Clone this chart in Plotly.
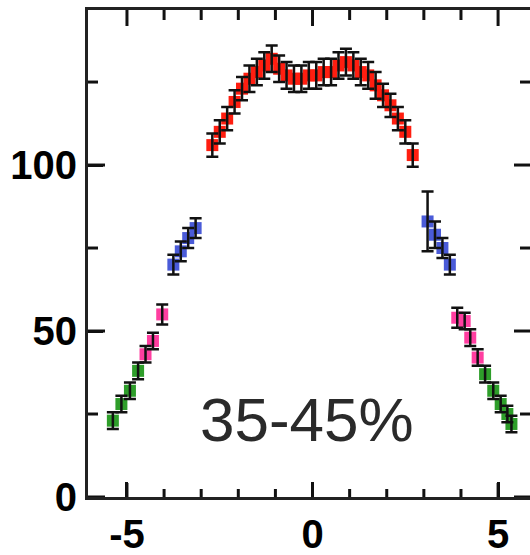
import plotly.graph_objects as go

# Red (mid-rapidity)
red_eta = [-2.7, -2.5, -2.3, -2.1, -1.9, -1.7, -1.5, -1.3, -1.1, -0.9, -0.7, -0.5, -0.3, -0.1,
           0.1, 0.3, 0.5, 0.7, 0.9, 1.1, 1.3, 1.5, 1.7, 1.9, 2.1, 2.3, 2.5, 2.7]
red_val = [106, 110, 114, 119, 123, 126, 128, 130, 132, 129, 127, 126, 126, 127,
           127, 128, 128, 130, 131, 130, 128, 127, 124, 121, 118, 114, 110, 103]
red_err = [3.5, 3.5, 3.5, 3.5, 3.5, 4, 4, 4, 4, 4, 4, 4, 4, 4,
           4, 4, 4, 4, 4, 4, 4, 4, 4, 3.5, 3.5, 3.5, 3.5, 3.5]

blue_eta = [-3.75, -3.55, -3.35, -3.15, 3.1, 3.3, 3.5, 3.7]
blue_val = [70, 74, 78, 81, 83, 79, 75, 70]
blue_err = [3, 3, 3, 3, 9, 4, 3, 3]

pink_eta = [-4.5, -4.3, -4.05, 3.9, 4.1, 4.25, 4.45]
pink_val = [43, 47, 55, 54, 53, 48, 42]
pink_err = [2.5, 2.5, 3, 3, 2.5, 2.5, 2.5]

green_eta = [-5.38, -5.15, -4.92, -4.7, 4.65, 4.87, 5.07, 5.25, 5.36]
green_val = [23, 28, 32, 38, 37, 32, 28, 25, 22]
green_err = [2.5, 2.5, 2.5, 2.5, 2.5, 2.5, 2.5, 2.5, 2.5]

x_major = [-5, 0, 5]
x_minor = [-4, -3, -2, -1, 1, 2, 3, 4]
y_major = [0, 50, 100]
y_minor = [25, 75, 125]
x_range = [-6.05, 5.86]
y_range = [0, 146.7]

series = [
    (red_eta, red_val, red_err, "#ff1e10"),
    (blue_eta, blue_val, blue_err, "#4a5bd8"),
    (pink_eta, pink_val, pink_err, "#ff3ea0"),
    (green_eta, green_val, green_err, "#2e9e2a"),
]

fig = go.Figure()
for xs, ys, es, col in series:
    fig.add_trace(go.Scatter(x=xs, y=ys, mode="markers",
                             marker=dict(symbol="square", size=12, color=col, line=dict(width=0)),
                             showlegend=False))
for xs, ys, es, col in series:
    fig.add_trace(go.Scatter(x=xs, y=ys, mode="markers",
                             marker=dict(size=1, color="rgba(0,0,0,0)"),
                             error_y=dict(type="data", array=es, visible=True,
                                          color="#111", thickness=2.5, width=6),
                             showlegend=False))

fig.add_annotation(x=-0.16, y=23.2, text="35-45%", showarrow=False,
                   font=dict(family="Liberation Sans", size=62, color="#2a2a2a"),
                   xanchor="center", yanchor="middle")

# inward tick marks on all four sides, placed at the axis tick values
tick_line = dict(color="#111", width=3)
for vals, blen, tlen in ((x_major, 14, 16), (x_minor, 8, 10)):
    for v in vals:
        fig.add_shape(type="line", xref="x", yref="y domain", ysizemode="pixel",
                      yanchor=0, x0=v, x1=v, y0=0, y1=blen, line=tick_line)
        fig.add_shape(type="line", xref="x", yref="y domain", ysizemode="pixel",
                      yanchor=1, x0=v, x1=v, y0=0, y1=-tlen, line=tick_line)
for vals, llen, rlen in ((y_major, 17, 16), (y_minor, 10, 10)):
    for v in vals:
        fig.add_shape(type="line", yref="y", xref="x domain", xsizemode="pixel",
                      xanchor=0, y0=v, y1=v, x0=0, x1=llen, line=tick_line)
        fig.add_shape(type="line", yref="y", xref="x domain", xsizemode="pixel",
                      xanchor=1, y0=v, y1=v, x0=0, x1=-rlen, line=tick_line)

font_lbl = dict(family="Liberation Sans", size=40, color="#000", weight="bold")

fig.update_layout(
    width=530, height=555, margin=dict(l=88, r=0, t=10, b=58),
    paper_bgcolor="white", plot_bgcolor="white",
    xaxis=dict(range=x_range, tickmode="array", tickvals=x_major,
               ticktext=[str(v) for v in x_major], ticks="inside", ticklen=15,
               tickwidth=3, tickcolor="#111", automargin=False,
               showline=True, linecolor="#222", linewidth=3, mirror=True,
               showgrid=False, zeroline=False, tickfont=font_lbl),
    yaxis=dict(range=y_range, tickmode="array", tickvals=y_major,
               ticktext=[str(v) for v in y_major], ticks="inside", ticklen=15,
               tickwidth=3, tickcolor="#111", automargin=False,
               showline=True, linecolor="#222", linewidth=3, mirror=True,
               showgrid=False, zeroline=False, tickfont=font_lbl),
)

fig.write_html("out.html")
